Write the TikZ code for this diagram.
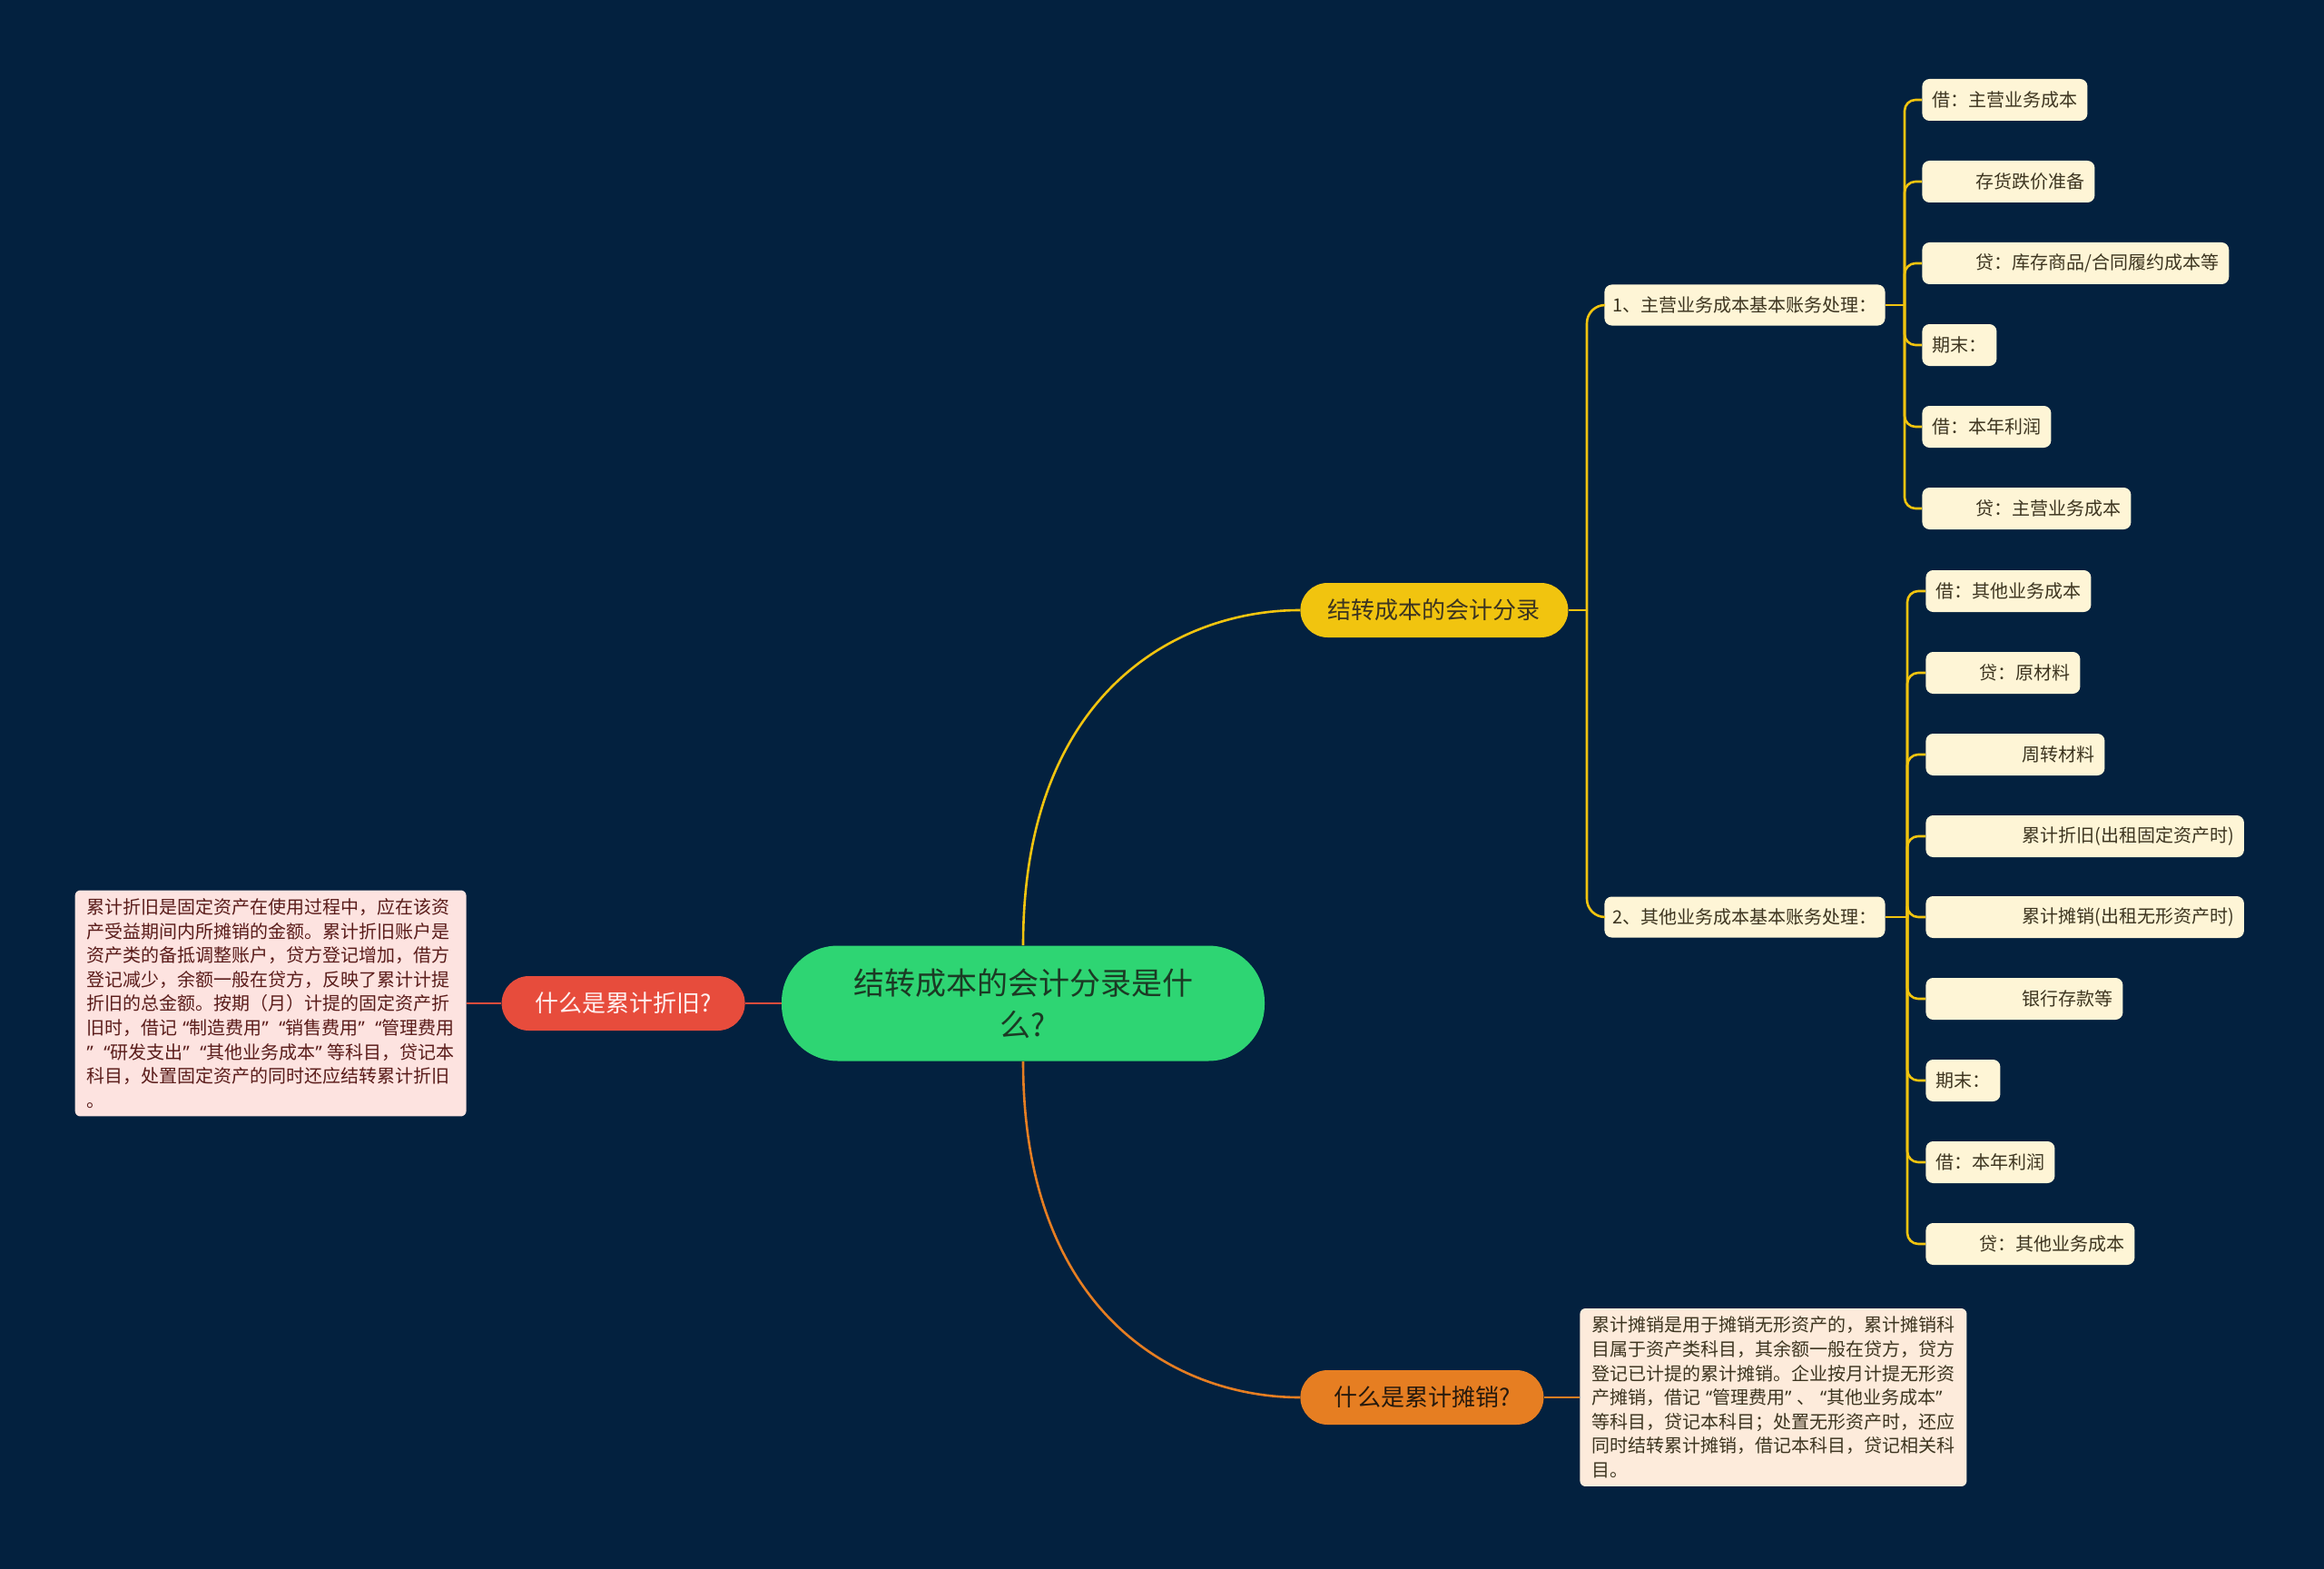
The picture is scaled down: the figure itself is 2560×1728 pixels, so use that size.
\documentclass[tikz,border=0pt]{standalone}
\usepackage{fontspec}
\setmainfont{Noto Sans CJK SC}
\newfontfamily\quotefont{Noto Sans}
\newcommand\qo{\makebox[0.65em][r]{\quotefont “}}
\newcommand\qc{\makebox[0.65em][l]{\quotefont ”}}
\definecolor{bgnavy}{HTML}{03213F}
\definecolor{rootgreen}{HTML}{2ED573}
\definecolor{rootink}{HTML}{1B3A24}
\definecolor{topicyellow}{HTML}{F1C40F}
\definecolor{topicred}{HTML}{E74C3C}
\definecolor{topicorange}{HTML}{E67E22}
\definecolor{cream}{HTML}{FEF5D6}
\definecolor{leafink}{HTML}{3D3520}
\definecolor{pinknote}{HTML}{FDE3E0}
\definecolor{pinkink}{HTML}{5A1C1A}
\definecolor{peachnote}{HTML}{FDEBDB}
\newcommand\pad[1]{\hspace*{#1}}
\tikzset{
  mainnode/.style = {fill = rootgreen, text = rootink, rounded corners = 31pt,
    minimum width = 266pt, minimum height = 63.5pt, align = center,
    font = \fontsize{17}{23}\selectfont},
  topic/.style = {rounded corners = 15pt, minimum height = 30pt,
    minimum width = 134pt, inner xsep = 14pt, font = \fontsize{13}{16}\selectfont},
  leafbox/.style = {fill = cream, text = leafink, rounded corners = 4pt,
    minimum height = 23pt, inner xsep = 5.5pt, inner ysep = 0pt, anchor = west,
    font = \fontsize{10}{12}\selectfont},
  notebox/.style = {rounded corners = 3pt, inner xsep = 6.5pt, inner ysep = 4.5pt,
    align = left, font = \fontsize{10}{13.3}\selectfont},
  link/.style = {line width = 1.3pt}
}
\begin{document}
\begin{tikzpicture}[x = 0.5pt, y = -0.5pt]
  \useasboundingbox (0,0) rectangle (2560,1728);
  \fill [bgnavy] (0,0) rectangle (2560,1728);

  \node [mainnode] (root) at (1127,1105) {结转成本的会计分录是什\\么?};
  \node [topic, fill = topicyellow, text = leafink, anchor = west, minimum width = 147.5pt]
    (entry) at (1432,672) {结转成本的会计分录};
  \node [topic, fill = topicred, text = white!94!red, anchor = east]
    (depr) at (821,1105) {什么是累计折旧?};
  \node [topic, fill = topicorange, text = black!80!brown, anchor = west]
    (amort) at (1432,1539) {什么是累计摊销?};

  \node [notebox, fill = pinknote, text = pinkink, anchor = east] (deprnote) at (514,1105)
    {累计折旧是固定资产在使用过程中，应在该资\\
     产受益期间内所摊销的金额。累计折旧账户是\\
     资产类的备抵调整账户，贷方登记增加，借方\\
     登记减少，余额一般在贷方，反映了累计计提\\
     折旧的总金额。按期（月）计提的固定资产折\\
     旧时，借记\qo 制造费用\qc\qo 销售费用\qc\qo 管理费用\\
     \qc\qo 研发支出\qc\qo 其他业务成本\qc 等科目，贷记本\\
     科目，处置固定资产的同时还应结转累计折旧\\
     。};
  \node [notebox, fill = peachnote, text = leafink, anchor = west] (amortnote) at (1740,1539)
    {累计摊销是用于摊销无形资产的，累计摊销科\\
     目属于资产类科目，其余额一般在贷方，贷方\\
     登记已计提的累计摊销。企业按月计提无形资\\
     产摊销，借记\qo 管理费用\qc 、\qo 其他业务成本\qc\\
     等科目，贷记本科目；处置无形资产时，还应\\
     同时结转累计摊销，借记本科目，贷记相关科\\
     目。};

  \node [leafbox, minimum height = 22.5pt, inner xsep = 4.5pt] (main) at (1767,336)
    {1、主营业务成本基本账务处理：};
  \node [leafbox, minimum height = 22.5pt, inner xsep = 4.5pt] (other) at (1767,1010)
    {2、其他业务成本基本账务处理：};

  \foreach \i/\y/\t in {1/110/{借：主营业务成本}, 2/200/{\pad{24pt}存货跌价准备},
      3/290/{\pad{24pt}贷：库存商品/合同履约成本等}, 4/380/{期末：},
      5/470/{借：本年利润}, 6/560/{\pad{24pt}贷：主营业务成本}}
    \node [leafbox] (a\i) at (2117,\y) {\t};
  \foreach \i/\y/\t in {1/651/{借：其他业务成本}, 2/741/{\pad{24pt}贷：原材料},
      3/831/{\pad{47.5pt}周转材料}, 4/921/{\pad{47.5pt}累计折旧(出租固定资产时)},
      5/1010/{\pad{47.5pt}累计摊销(出租无形资产时)}, 6/1100/{\pad{47.5pt}银行存款等},
      7/1190/{期末：}, 8/1280/{借：本年利润}, 9/1370/{\pad{24pt}贷：其他业务成本}}
    \node [leafbox] (b\i) at (2121,\y) {\t};

  \draw [link, topicyellow] (root.north) .. controls (1127,760) and (1300,672) .. (entry.west);
  \draw [link, topicorange] (root.south) .. controls (1127,1451) and (1300,1539) .. (amort.west);
  \draw [link, topicred] (root.west) -- (depr.east);
  \draw [link, topicred] (depr.west) -- (deprnote.east);
  \draw [link, topicorange] (amort.east) -- (amortnote.west);

  \coordinate (j1) at (1748,672);
  \coordinate (j2) at (2098,336);
  \coordinate (j3) at (2101,1010);
  \draw [link, topicyellow] (entry.east) -- (j1);
  \draw [link, topicyellow, rounded corners = 10pt] (j1) |- (main.west);
  \draw [link, topicyellow, rounded corners = 10pt] (j1) |- (other.west);
  \draw [link, topicyellow] (main.east) -- (j2);
  \draw [link, topicyellow] (other.east) -- (j3);
  \foreach \i in {1,...,6}
    \draw [link, topicyellow, rounded corners = 6pt] (j2) |- (a\i.west);
  \foreach \i in {1,...,9}
    \draw [link, topicyellow, rounded corners = 6pt] (j3) |- (b\i.west);
\end{tikzpicture}
\end{document}
